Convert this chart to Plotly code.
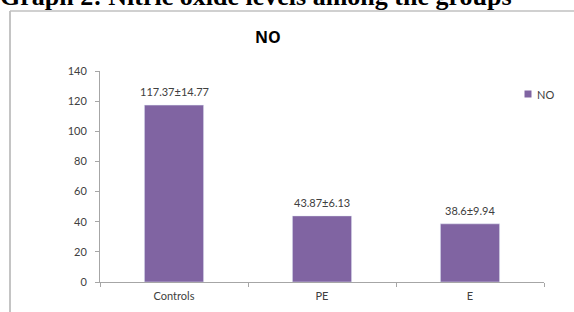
import plotly.graph_objects as go

categories = ["Controls", "PE", "E"]
means = [117.37, 43.87, 38.6]
sds = [14.77, 6.13, 9.94]
y_ticks = [0, 20, 40, 60, 80, 100, 120, 140]
series_name = "NO"
heading = "Graph 2: Nitric oxide levels among the groups"

W, H = 574, 312
L, R, T, B = 100, 30, 71, 30
pw, ph = W - L - R, H - T - B

def px(x):
    return (x - L) / pw

def py(y):
    return (H - B - y) / ph

purple = "#8064A2"
axis_col = "#a6a6a6"
txt_col = "#404040"
font_fam = "Lato, 'Open Sans', sans-serif"

fig = go.Figure()
fig.add_trace(go.Bar(x=categories, y=means, marker_color=purple, width=0.4,
                     showlegend=False, name=series_name))

labels = [f"{m}±{s}" for m, s in zip(means, sds)]
for c, m, lab in zip(categories, means, labels):
    fig.add_annotation(x=c, y=m, text=lab, showarrow=False, yanchor="bottom",
                       yshift=5, font=dict(size=11, color=txt_col, family=font_fam))

# title
fig.add_annotation(xref="paper", yref="paper", x=px(268), y=py(37), text="<b>NO</b>",
                   showarrow=False, xanchor="center", yanchor="middle",
                   font=dict(size=16, color="#000000", family="'Open Sans', sans-serif"))
# heading (partly cut off at the top, as in the source)
fig.add_annotation(xref="paper", yref="paper", x=px(-2), y=py(13), text="<b>" + heading + "</b>",
                   showarrow=False, xanchor="left", yanchor="bottom",
                   font=dict(size=26, color="#000000", family="'Liberation Serif', serif"))
# legend (manual)
fig.add_shape(type="rect", xref="paper", yref="paper", x0=px(524.5), x1=px(531.5),
              y0=py(97.5), y1=py(90.5), fillcolor=purple, line=dict(width=0))
fig.add_annotation(xref="paper", yref="paper", x=px(535), y=py(94), text=series_name,
                   showarrow=False, xanchor="left", yanchor="middle",
                   font=dict(size=11, color=txt_col, family=font_fam))
# frame
fig.add_shape(type="line", xref="paper", yref="paper", x0=px(10), x1=px(10),
              y0=py(11), y1=py(330), line=dict(color="#b0b0b0", width=1.5))
fig.add_shape(type="line", xref="paper", yref="paper", x0=px(10), x1=px(600),
              y0=py(11), y1=py(11), line=dict(color="#c0c0c0", width=1.5))

fig.update_layout(
    width=W, height=H, margin=dict(l=L, r=R, t=T, b=B),
    paper_bgcolor="white", plot_bgcolor="white",
    bargap=0.6,
    xaxis=dict(range=[-0.5, 2.5], showline=True, linecolor=axis_col, linewidth=1,
               ticks="outside", tickson="boundaries", ticklen=4, tickcolor=axis_col,
               ticklabelstandoff=4, automargin=False,
               showgrid=False, tickfont=dict(size=11, color=txt_col, family=font_fam)),
    yaxis=dict(range=[0, 140], tickvals=y_ticks, showline=True, linecolor=axis_col,
               linewidth=1, ticks="outside", ticklen=4, tickcolor=axis_col, showgrid=False,
               ticklabelstandoff=6, automargin=False,
               zeroline=False, tickfont=dict(size=11, color=txt_col, family=font_fam)),
)
fig.write_html("out.html", config={"displayModeBar": False},
               post_script="document.body.style.margin='0';")
